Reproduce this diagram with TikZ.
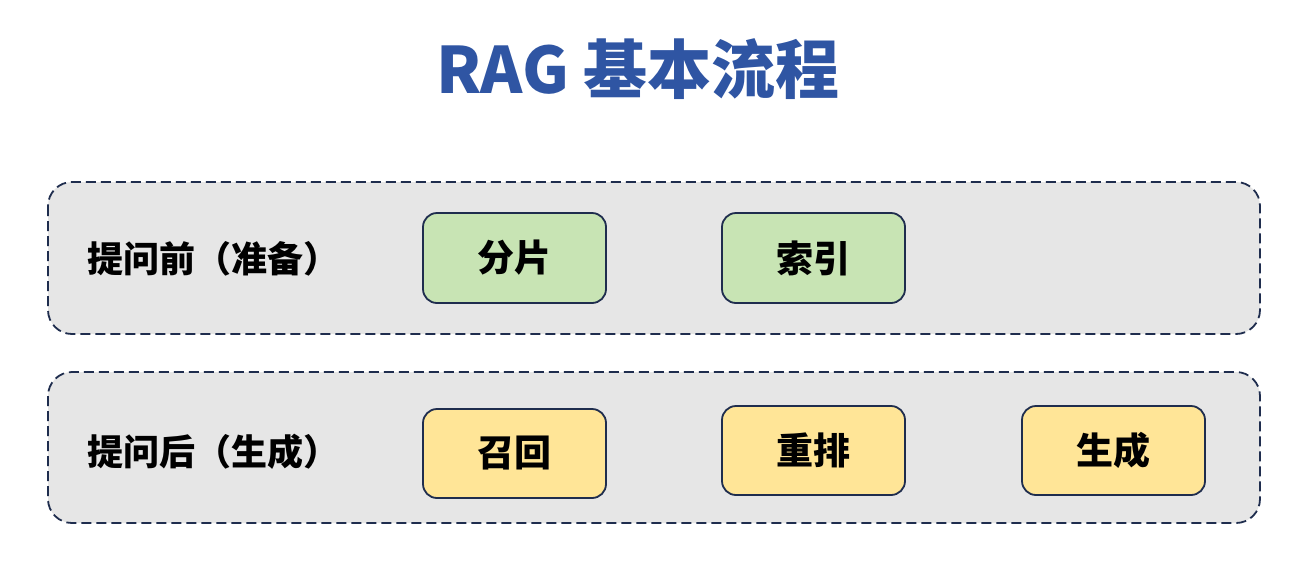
\documentclass[tikz,border=0pt]{standalone}
\usepackage{fontspec}
\newfontfamily\cjk{Noto Sans CJK SC}
\definecolor{navy}{HTML}{1F2D4E}
\definecolor{panel}{HTML}{E6E6E6}
\definecolor{green}{HTML}{C8E4B4}
\definecolor{yel}{HTML}{FFE597}
\definecolor{ttl}{HTML}{2F55A3}
\tikzset{
  panelbox/.style={draw=navy, fill=panel, line width=1.8pt, dash pattern=on 10pt off 5pt, rounded corners=24pt},
  stepbox/.style={draw=navy, line width=1.8pt, rounded corners=14pt, minimum width=183pt, minimum height=90pt, inner sep=0pt, font=\cjk\bfseries\fontsize{37}{42}\selectfont},
  lbl/.style={anchor=west, inner sep=0pt, font=\cjk\bfseries\fontsize{36}{42}\selectfont}
}
\begin{document}
\begin{tikzpicture}[x=1pt,y=-1pt]
\useasboundingbox (0,0) rectangle (1316,574);
\node[font=\cjk\bfseries\fontsize{64}{72}\selectfont, text=ttl, inner sep=0pt] (title) at (638,69) {RAG 基本流程};
\draw[panelbox] (48,182) rectangle (1260,334);
\draw[panelbox] (48,372) rectangle (1260,523);
\node[lbl] (l1) at (87,259) {提问前（准备）};
\node[lbl] (l2) at (87,452) {提问后（生成）};
\node[stepbox, fill=green] (s1) at (514.5,258) {分片};
\node[stepbox, fill=green] (s2) at (813.5,258) {索引};
\node[stepbox, fill=yel, minimum height=89pt] (s3) at (514.5,453.5) {召回};
\node[stepbox, fill=yel, minimum height=89pt] (s4) at (813.5,450.5) {重排};
\node[stepbox, fill=yel, minimum height=89pt] (s5) at (1113.5,450.5) {生成};
\end{tikzpicture}
\end{document}
